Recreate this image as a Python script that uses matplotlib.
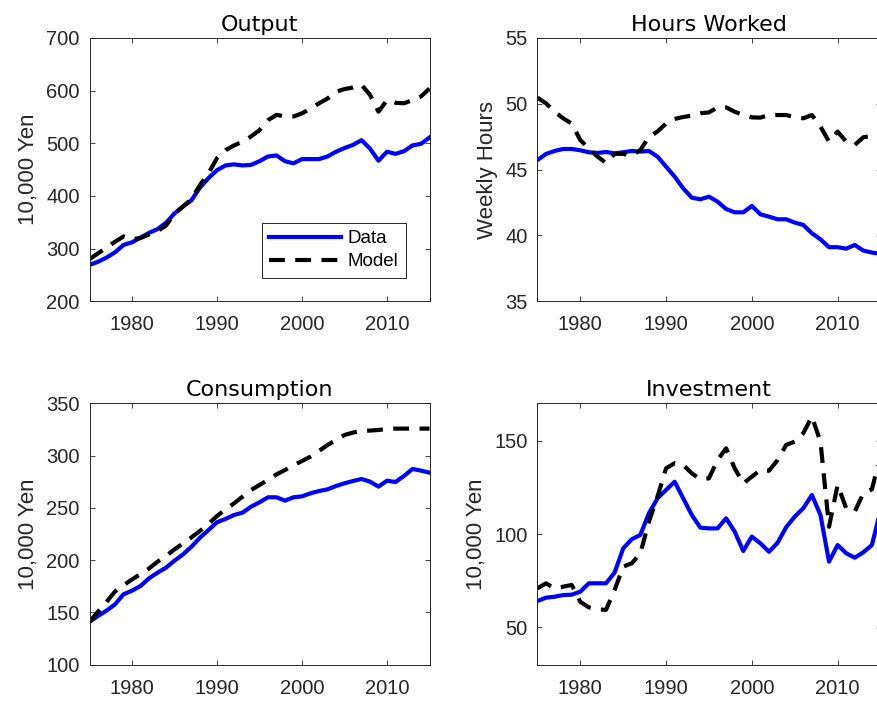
import numpy as np
import matplotlib
matplotlib.use("Agg")
import matplotlib.pyplot as plt

plt.rcParams['font.family'] = ['Liberation Sans', 'DejaVu Sans']

years = np.arange(1975, 2016)

output_data = [269, 275, 283, 293, 307, 312, 321, 330, 337, 349,
               367, 380, 392, 416, 434, 449, 458, 460, 458, 459,
               466, 475, 477, 466, 462, 470, 470, 470, 475, 484,
               491, 497, 506, 490, 467, 484, 480, 485, 496, 499, 511]
output_model = [280, 291, 302, 313, 323, 318, 320, 327, 333, 344,
                366, 380, 394, 421, 443, 472, 487, 496, 503, 513,
                525, 544, 554, 551, 551, 557, 566, 576, 585, 598,
                603, 606, 611, 592, 560, 582, 577, 576, 582, 589, 604]

hours_data = [45.73, 46.19, 46.42, 46.57, 46.57, 46.47, 46.32, 46.27, 46.34, 46.24,
              46.32, 46.42, 46.37, 46.42, 45.99, 45.23, 44.47, 43.58, 42.87, 42.75,
              42.95, 42.57, 42.01, 41.76, 41.76, 42.24, 41.61, 41.43, 41.23, 41.23,
              40.98, 40.80, 40.17, 39.71, 39.11, 39.11, 39.00, 39.28, 38.85, 38.70, 38.60]
hours_model = [50.47, 50.04, 49.41, 48.90, 48.50, 47.25, 46.60, 46.00, 45.50, 46.20,
               46.20, 46.05, 46.50, 47.46, 47.90, 48.50, 48.85, 49.00, 49.10, 49.28,
               49.35, 49.73, 49.73, 49.40, 49.15, 48.97, 48.95, 49.15, 49.15, 49.15,
               48.98, 48.90, 49.15, 48.27, 47.13, 47.89, 47.13, 46.88, 47.46, 47.56, 47.70]

cons_data = [141.0, 146.6, 151.7, 157.7, 167.3, 170.8, 175.3, 182.6, 188.0, 192.8,
             199.5, 205.5, 212.9, 221.5, 228.8, 236.2, 239.4, 243.2, 245.4, 251.1,
             255.3, 260.1, 260.1, 256.9, 260.1, 261.0, 263.9, 266.1, 267.7, 270.9,
             273.5, 275.7, 277.6, 275.1, 270.3, 276.0, 274.7, 280.5, 287.2, 285.6, 283.7]
cons_model = [141.0, 150.7, 160.0, 170.0, 176.0, 181.5, 186.7, 192.0, 198.5, 204.0,
              210.3, 216.0, 221.8, 227.9, 234.6, 242.2, 248.6, 254.3, 260.7, 267.0,
              271.9, 276.7, 282.0, 286.2, 290.7, 294.8, 299.0, 304.4, 310.1, 315.0,
              319.7, 322.0, 323.9, 323.9, 324.5, 325.4, 325.8, 325.8, 325.8, 325.8, 325.8]

inv_data = [64.1, 65.9, 66.4, 67.3, 67.5, 69.1, 73.6, 73.6, 73.6, 79.3,
            92.3, 97.2, 99.5, 111.1, 119.1, 123.6, 128.0, 119.1, 110.2, 103.4,
            103.0, 103.0, 108.4, 101.3, 90.9, 98.6, 95.0, 90.5, 95.3, 103.6,
            109.3, 113.8, 120.9, 110.2, 85.2, 94.1, 89.7, 87.3, 90.2, 94.1, 112.7]
inv_model = [70.9, 73.6, 70.9, 71.8, 72.7, 63.7, 60.7, 59.6, 59.4, 70.0,
             82.5, 84.3, 89.6, 106.6, 120.0, 135.2, 137.9, 137.0, 132.5, 129.3,
             129.8, 139.6, 145.9, 135.2, 127.1, 130.7, 134.3, 133.9, 139.6, 147.7,
             149.5, 154.0, 162.9, 149.5, 103.9, 126.3, 113.8, 112.0, 121.8, 124.0, 142.0]

W, H = 877, 702
fig = plt.figure(figsize=(W / 100, H / 100), dpi=100)

# panel boxes in pixels: left, top, right, bottom
boxes = {
    'out': (89.5, 38, 429.5, 301.3),
    'hrs': (537.4, 38, 880.5, 301.3),
    'con': (89.5, 403.3, 429.5, 664.7),
    'inv': (537.4, 403.3, 880.5, 664.7),
}

def make_ax(key):
    l, t, r, b = boxes[key]
    return fig.add_axes([l / W, 1 - b / H, (r - l) / W, (b - t) / H])

panels = [
    ('out', 'Output', output_data, output_model, (200, 700), [200, 300, 400, 500, 600, 700], '10,000 Yen'),
    ('hrs', 'Hours Worked', hours_data, hours_model, (35, 55), [35, 40, 45, 50, 55], 'Weekly Hours'),
    ('con', 'Consumption', cons_data, cons_model, (100, 350), [100, 150, 200, 250, 300, 350], '10,000 Yen'),
    ('inv', 'Investment', inv_data, inv_model, (30, 170), [50, 100, 150], '10,000 Yen'),
]

edge = '#262626'
for key, title, d, m, ylim, yt, ylab in panels:
    ax = make_ax(key)
    ax.plot(years, d, color='#0000ff', lw=3, label='Data', solid_joinstyle='round')
    ax.plot(years, m, color='black', lw=3, ls=(0, (3.8, 2.5)), label='Model')
    ax.set_xlim(1975, 2015)
    ax.set_ylim(*ylim)
    ax.set_xticks([1980, 1990, 2000, 2010])
    ax.set_yticks(yt)
    ax.tick_params(direction='in', length=3.5, width=0.6, top=True, right=True,
                   labelsize=14.5, colors=edge)
    ax.tick_params(axis='x', pad=10)
    ax.tick_params(axis='y', pad=7)
    for sp in ax.spines.values():
        sp.set_color(edge)
        sp.set_linewidth(0.7)
    ax.set_title(title, fontsize=16, pad=5, family='DejaVu Sans')
    ax.set_ylabel(ylab, fontsize=16, color=edge, labelpad=5)
    if key == 'out':
        leg = ax.legend(loc='lower right', bbox_to_anchor=(0.93, 0.09), borderaxespad=0,
                        fontsize=13.5, fancybox=False, framealpha=1, handlelength=3.8,
                        handletextpad=0.37, borderpad=0.4, labelspacing=0.3)
        leg.get_frame().set_edgecolor(edge)
        leg.get_frame().set_linewidth(0.7)

fig.savefig('out.png', dpi=100)
